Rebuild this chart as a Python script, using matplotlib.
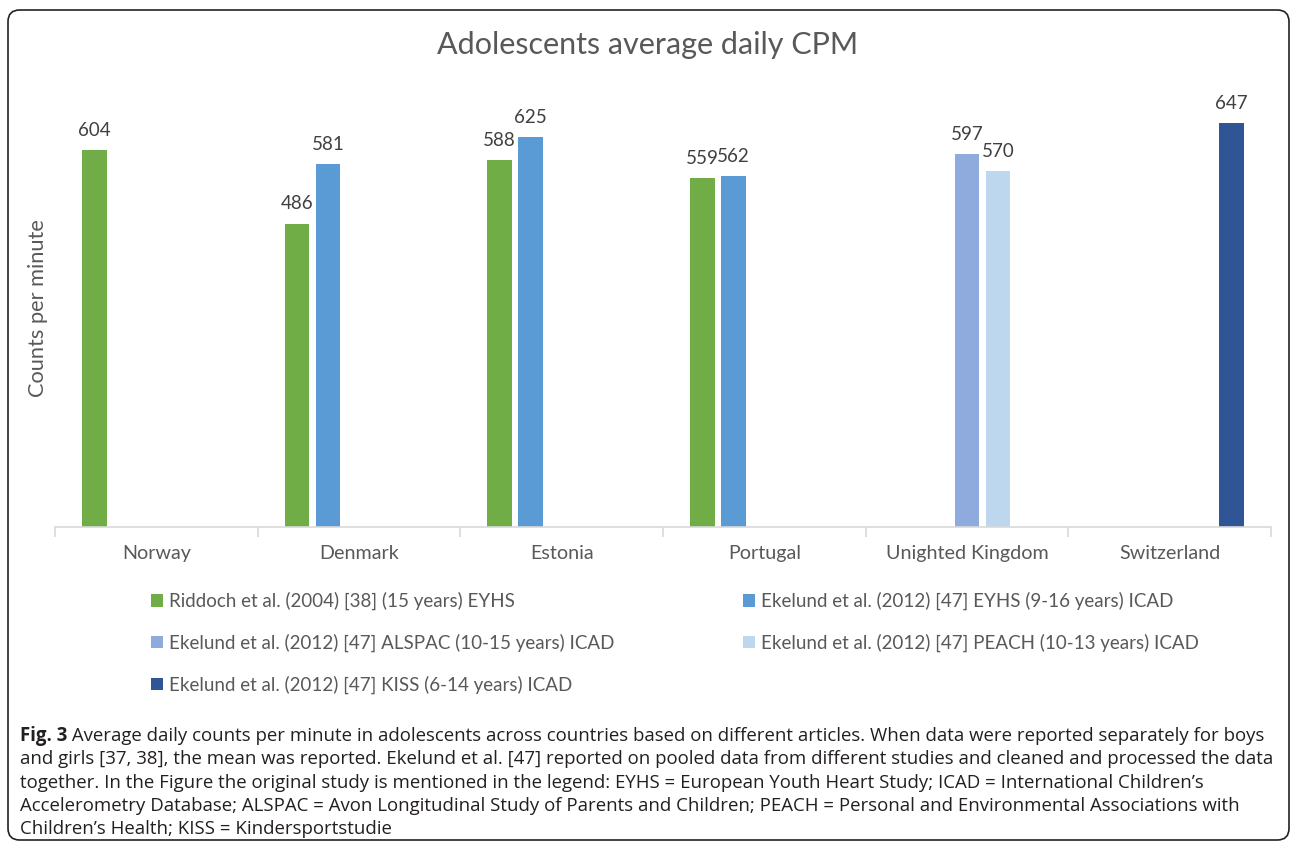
import matplotlib
matplotlib.use("Agg")
import matplotlib.pyplot as plt
import numpy as np
from matplotlib.patches import FancyBboxPatch, Patch

W, H, DPI = 1292, 843, 100

title = "Adolescents average daily CPM"
ylabel = "Counts per minute"
countries = ["Norway", "Denmark", "Estonia", "Portugal", "Unighted Kingdom", "Switzerland"]

series_names = [
    "Riddoch et al. (2004) [38] (15 years) EYHS",
    "Ekelund et al. (2012) [47] EYHS (9-16 years) ICAD",
    "Ekelund et al. (2012) [47] ALSPAC (10-15 years) ICAD",
    "Ekelund et al. (2012) [47] PEACH (10-13 years) ICAD",
    "Ekelund et al. (2012) [47] KISS (6-14 years) ICAD",
]
riddoch = [604, 486, 588, 559, None, None]
ekelund_eyhs = [None, 581, 625, 562, None, None]
ekelund_alspac = [None, None, None, None, 597, None]
ekelund_peach = [None, None, None, None, 570, None]
ekelund_kiss = [None, None, None, None, None, 647]
series_values = [riddoch, ekelund_eyhs, ekelund_alspac, ekelund_peach, ekelund_kiss]
series_colors = ["#70AD47", "#5B9BD5", "#8FAADC", "#BDD7EE", "#2F5597"]

caption_bold = "Fig. 3"
caption_lines = [
    " Average daily counts per minute in adolescents across countries based on different articles. When data were reported separately for boys",
    "and girls [37, 38], the mean was reported. Ekelund et al. [47] reported on pooled data from different studies and cleaned and processed the data",
    "together. In the Figure the original study is mentioned in the legend: EYHS = European Youth Heart Study; ICAD = International Children\u2019s",
    "Accelerometry Database; ALSPAC = Avon Longitudinal Study of Parents and Children; PEACH = Personal and Environmental Associations with",
    "Children\u2019s Health; KISS = Kindersportstudie",
]

CHART_FONT = ["Lato", "DejaVu Sans"]
CAP_FONT = ["Open Sans", "DejaVu Sans"]
TXT = "#595959"

fig = plt.figure(figsize=(W / DPI, H / DPI), dpi=DPI)

# outer rounded frame
frame = FancyBboxPatch((8 / W, 3 / H), (1289 - 8) / W, (833 - 3) / H,
                       boxstyle="round,pad=0,rounding_size=0.009",
                       transform=fig.transFigure, fill=False,
                       edgecolor="#222222", linewidth=1.2, mutation_aspect=W / H)
fig.patches.append(frame)

ax = fig.add_axes([55 / W, 1 - 527 / H, (1271 - 55) / W, (527 - 90) / H])
ax.set_xlim(-0.5, len(countries) - 0.5)
ax.set_ylim(0, 700)

x = np.arange(len(countries))
slot = 0.153
width = 0.121
n = len(series_values)
for i, (vals, col) in enumerate(zip(series_values, series_colors)):
    xs = [xi + (i - (n - 1) / 2) * slot for xi, v in zip(x, vals) if v is not None]
    vs = [v for v in vals if v is not None]
    ax.bar(xs, vs, width=width, color=col, zorder=2)
    for xx, vv in zip(xs, vs):
        ax.annotate(str(vv), (xx, vv), xytext=(0, 8), textcoords="offset points",
                    ha="center", va="bottom", fontsize=13.5, color="#404040",
                    family=CHART_FONT)

for s in ["left", "top", "right"]:
    ax.spines[s].set_visible(False)
ax.spines["bottom"].set_color("#D9D9D9")
ax.spines["bottom"].set_linewidth(1.2)
ax.set_yticks([])
ax.set_xticks(x)
ax.set_xticklabels(countries, family=CHART_FONT, fontsize=14.2, color=TXT)
ax.set_xticks(np.arange(-0.5, len(countries)), minor=True)
ax.tick_params(axis="x", which="major", length=0, pad=13)
ax.tick_params(axis="x", which="minor", length=7, color="#D9D9D9", width=1.2)
ax.set_ylabel(ylabel, family=CHART_FONT, fontsize=15.7, color=TXT, labelpad=5)

fig.text(648 / W, 1 - 45 / H, title, ha="center", va="center",
         family=CHART_FONT, fontsize=22, color=TXT)

# legend: two columns, rows read left-to-right like Excel
handles = [Patch(facecolor=c, edgecolor="none") for c in series_colors]
leg_kw = dict(loc="upper left", frameon=False, borderpad=0, borderaxespad=0,
              prop={"family": CHART_FONT, "size": 13.5},
              handlelength=0.64, handleheight=0.64, handletextpad=0.3,
              labelspacing=1.25, labelcolor=TXT)
col1 = [0, 2, 4]
col2 = [1, 3]
fig.legend([handles[k] for k in col1], [series_names[k] for k in col1],
           bbox_to_anchor=(151 / W, 1 - 592 / H), **leg_kw)
fig.legend([handles[k] for k in col2], [series_names[k] for k in col2],
           bbox_to_anchor=(743 / W, 1 - 592 / H), **leg_kw)

# caption
y0 = 736
dy = 23.3
cap_size = 13.4
fig.canvas.draw()
r = fig.canvas.get_renderer()
tb = fig.text(20 / W, 1 - y0 / H, caption_bold, ha="left", va="center",
              family=CAP_FONT, fontsize=cap_size, fontweight="bold", color="#231F20")
bb = tb.get_window_extent(renderer=r)
fig.text(bb.x1 / W, 1 - y0 / H, caption_lines[0], ha="left", va="center",
         family=CAP_FONT, fontsize=cap_size, color="#231F20")
for k, line in enumerate(caption_lines[1:], start=1):
    fig.text(20 / W, 1 - (y0 + k * dy) / H, line, ha="left", va="center",
             family=CAP_FONT, fontsize=cap_size, color="#231F20")

fig.savefig("out.png", dpi=DPI)
